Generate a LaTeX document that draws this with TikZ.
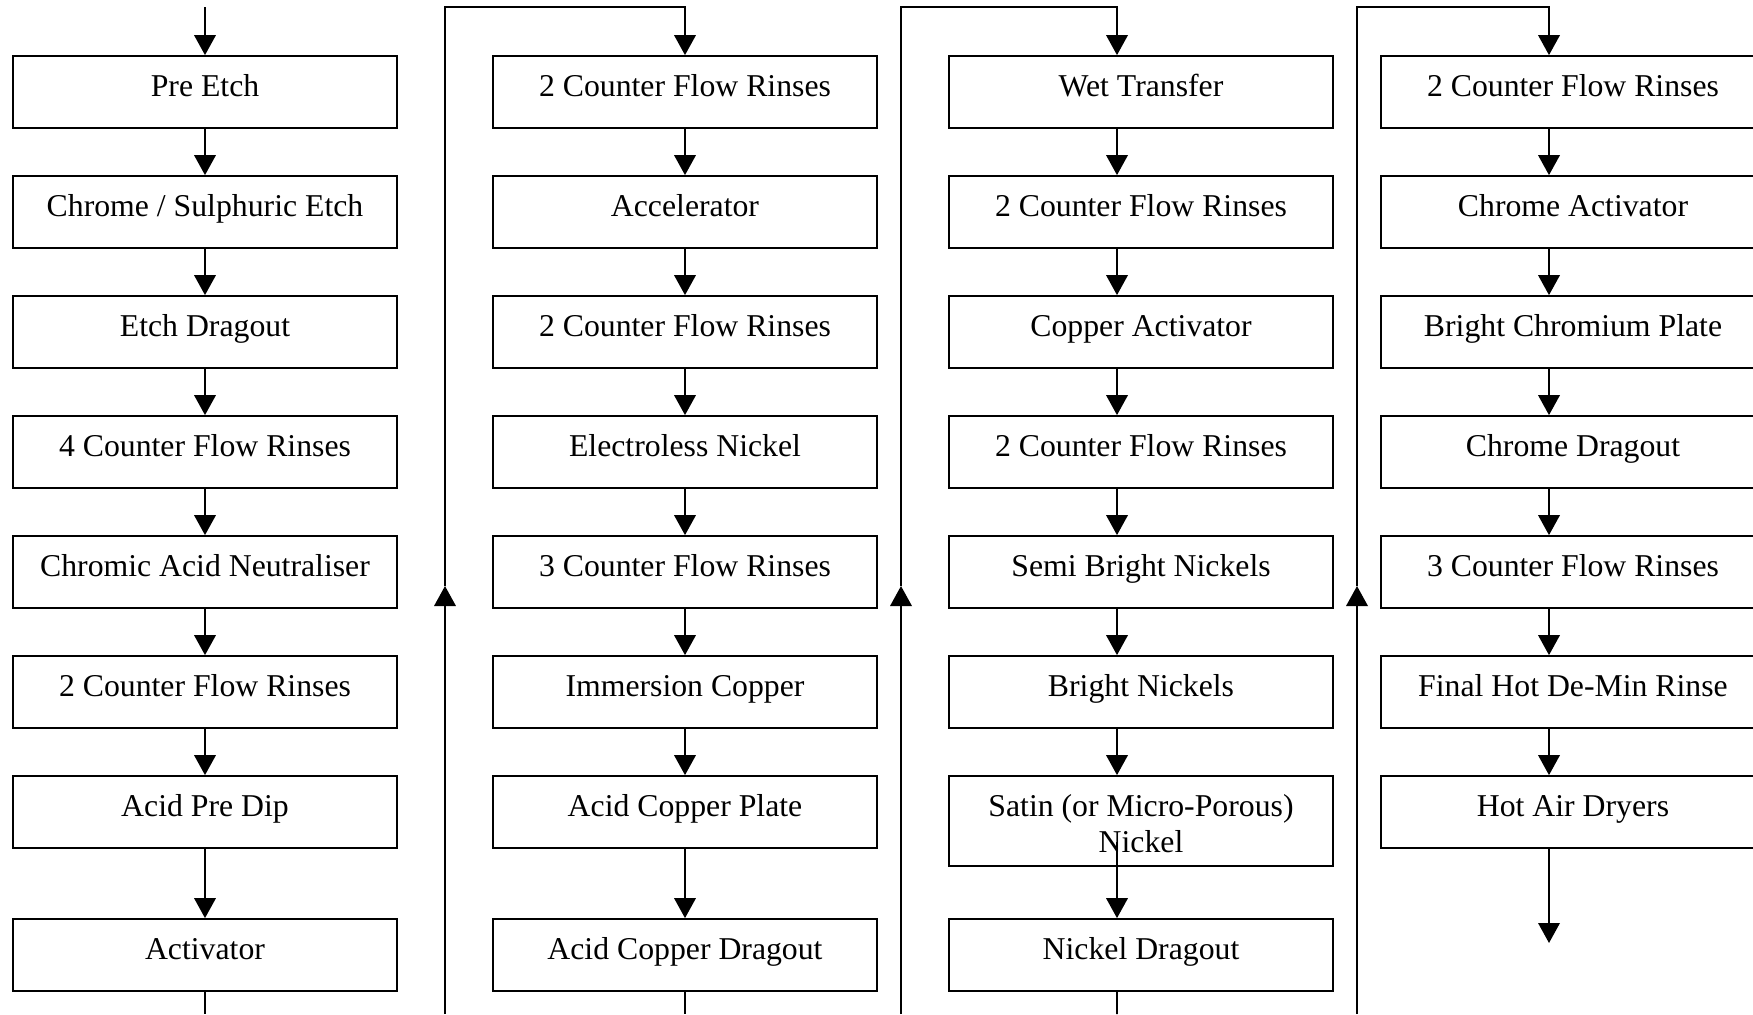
\documentclass[tikz,border=0pt]{standalone}
\usepackage{fontspec}
\setmainfont{Liberation Serif}
\usetikzlibrary{arrows.meta}
\begin{document}
\begin{tikzpicture}[x=0.4pt,y=-0.4pt,
  box/.style={draw, line width=0.7pt, minimum width=153.6pt, minimum height=28.8pt, inner sep=0pt},
  tallbox/.style={box, minimum height=36pt},
  lbl/.style={anchor=base, inner sep=0pt, font=\fontsize{12.7}{15}\selectfont},
  conn/.style={line width=0.75pt},
  arr/.style={conn, -{Triangle[length=8pt,width=8.6pt]}}]
\useasboundingbox (0,0) rectangle (1753,1014);
\clip (0,0) rectangle (1753,1014);
% column 1
\node[box] (a1) at (205,92) {};
\node[box] (a2) at (205,212) {};
\node[box] (a3) at (205,332) {};
\node[box] (a4) at (205,452) {};
\node[box] (a5) at (205,572) {};
\node[box] (a6) at (205,692) {};
\node[box] (a7) at (205,812) {};
\node[box] (a8) at (205,955) {};
\node[lbl] (ta1) at ([yshift=-16.4pt]a1.north) {Pre Etch};
\node[lbl] (ta2) at ([yshift=-16.4pt]a2.north) {Chrome / Sulphuric Etch};
\node[lbl] (ta3) at ([yshift=-16.4pt]a3.north) {Etch Dragout};
\node[lbl] (ta4) at ([yshift=-16.4pt]a4.north) {4 Counter Flow Rinses};
\node[lbl] (ta5) at ([yshift=-16.4pt]a5.north) {Chromic Acid Neutraliser};
\node[lbl] (ta6) at ([yshift=-16.4pt]a6.north) {2 Counter Flow Rinses};
\node[lbl] (ta7) at ([yshift=-16.4pt]a7.north) {Acid Pre Dip};
\node[lbl] (ta8) at ([yshift=-16.4pt]a8.north) {Activator};
% column 2
\node[box] (b1) at (685,92) {};
\node[box] (b2) at (685,212) {};
\node[box] (b3) at (685,332) {};
\node[box] (b4) at (685,452) {};
\node[box] (b5) at (685,572) {};
\node[box] (b6) at (685,692) {};
\node[box] (b7) at (685,812) {};
\node[box] (b8) at (685,955) {};
\node[lbl] (tb1) at ([yshift=-16.4pt]b1.north) {2 Counter Flow Rinses};
\node[lbl] (tb2) at ([yshift=-16.4pt]b2.north) {Accelerator};
\node[lbl] (tb3) at ([yshift=-16.4pt]b3.north) {2 Counter Flow Rinses};
\node[lbl] (tb4) at ([yshift=-16.4pt]b4.north) {Electroless Nickel};
\node[lbl] (tb5) at ([yshift=-16.4pt]b5.north) {3 Counter Flow Rinses};
\node[lbl] (tb6) at ([yshift=-16.4pt]b6.north) {Immersion Copper};
\node[lbl] (tb7) at ([yshift=-16.4pt]b7.north) {Acid Copper Plate};
\node[lbl] (tb8) at ([yshift=-16.4pt]b8.north) {Acid Copper Dragout};
% column 3
\node[box] (c1) at (1141,92) {};
\node[box] (c2) at (1141,212) {};
\node[box] (c3) at (1141,332) {};
\node[box] (c4) at (1141,452) {};
\node[box] (c5) at (1141,572) {};
\node[box] (c6) at (1141,692) {};
\node[tallbox] (c7) at (1141,821) {};
\node[box] (c8) at (1141,955) {};
\node[lbl] (tc1) at ([yshift=-16.4pt]c1.north) {Wet Transfer};
\node[lbl] (tc2) at ([yshift=-16.4pt]c2.north) {2 Counter Flow Rinses};
\node[lbl] (tc3) at ([yshift=-16.4pt]c3.north) {Copper Activator};
\node[lbl] (tc4) at ([yshift=-16.4pt]c4.north) {2 Counter Flow Rinses};
\node[lbl] (tc5) at ([yshift=-16.4pt]c5.north) {Semi Bright Nickels};
\node[lbl] (tc6) at ([yshift=-16.4pt]c6.north) {Bright Nickels};
\node[lbl] (tc7) at ([yshift=-16.4pt]c7.north) {Satin (or Micro-Porous)};
\node[lbl] (tc7b) at ([yshift=-31.1pt]c7.north) {Nickel};
\node[lbl] (tc8) at ([yshift=-16.4pt]c8.north) {Nickel Dragout};
% column 4
\node[box] (d1) at (1573,92) {};
\node[box] (d2) at (1573,212) {};
\node[box] (d3) at (1573,332) {};
\node[box] (d4) at (1573,452) {};
\node[box] (d5) at (1573,572) {};
\node[box] (d6) at (1573,692) {};
\node[box] (d7) at (1573,812) {};
\node[lbl] (td1) at ([yshift=-16.4pt]d1.north) {2 Counter Flow Rinses};
\node[lbl] (td2) at ([yshift=-16.4pt]d2.north) {Chrome Activator};
\node[lbl] (td3) at ([yshift=-16.4pt]d3.north) {Bright Chromium Plate};
\node[lbl] (td4) at ([yshift=-16.4pt]d4.north) {Chrome Dragout};
\node[lbl] (td5) at ([yshift=-16.4pt]d5.north) {3 Counter Flow Rinses};
\node[lbl] (td6) at ([yshift=-16.4pt]d6.north) {Final Hot De-Min Rinse};
\node[lbl] (td7) at ([yshift=-16.4pt]d7.north) {Hot Air Dryers};
% free ends
\coordinate (s1) at (205,7);
\coordinate (e1) at (205,1014);
\coordinate (e2) at (685,1014);
\coordinate (e3) at (1117,1014);
\coordinate (e4) at (1549,943);
\coordinate (c7out) at (1117,842);
\coordinate (f1b) at (445,1014);
\coordinate (f1m) at (445,586);
\coordinate (f1t) at (445,7);
\coordinate (f2b) at (901,1014);
\coordinate (f2m) at (901,586);
\coordinate (f2t) at (901,7);
\coordinate (f3b) at (1357,1014);
\coordinate (f3m) at (1357,586);
\coordinate (f3t) at (1357,7);
% column 1 connectors
\draw[arr] (s1) -- (a1.north);
\foreach \i/\j in {1/2,2/3,3/4,4/5,5/6,6/7,7/8}
  \draw[arr] (a\i.south) -- (a\j.north);
\draw[conn] (a8.south) -- (e1);
% column 2 connectors
\draw[arr] (f1b) -- (f1m);
\draw[arr] (f1m) -- (f1t) -| (b1.north);
\foreach \i/\j in {1/2,2/3,3/4,4/5,5/6,6/7,7/8}
  \draw[arr] (b\i.south) -- (b\j.north);
\draw[conn] (b8.south) -- (e2);
% column 3 connectors
\draw[arr] (f2b) -- (f2m);
\draw[arr] (f2m) -- (f2t) -| ([xshift=-9.6pt]c1.north);
\foreach \i/\j in {1/2,2/3,3/4,4/5,5/6,6/7}
  \draw[arr] ([xshift=-9.6pt]c\i.south) -- ([xshift=-9.6pt]c\j.north);
\draw[arr] (c7out) -- ([xshift=-9.6pt]c8.north);
\draw[conn] ([xshift=-9.6pt]c8.south) -- (e3);
% column 4 connectors
\draw[arr] (f3b) -- (f3m);
\draw[arr] (f3m) -- (f3t) -| ([xshift=-9.6pt]d1.north);
\foreach \i/\j in {1/2,2/3,3/4,4/5,5/6,6/7}
  \draw[arr] ([xshift=-9.6pt]d\i.south) -- ([xshift=-9.6pt]d\j.north);
\draw[arr] ([xshift=-9.6pt]d7.south) -- (e4);
\end{tikzpicture}
\end{document}
